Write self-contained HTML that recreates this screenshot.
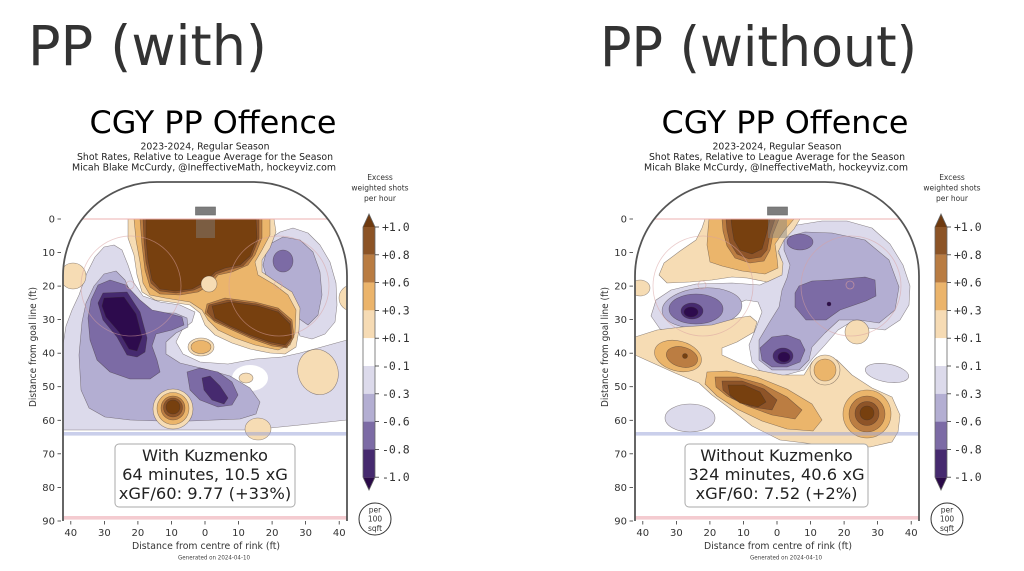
<!DOCTYPE html>
<html><head><meta charset="utf-8"><style>
html,body{margin:0;padding:0;background:#fff;}
svg{display:block;}
text{font-family:"DejaVu Sans","Liberation Sans",sans-serif;}
.mono text{font-family:"DejaVu Sans Mono","Liberation Mono",monospace;}
.b1{fill:#f6dcb4}.b2{fill:#ebb56b}.b3{fill:#bb7d42}.b4{fill:#8e5428}.b5{fill:#77400f}
.p1{fill:#dcdaeb}.p2{fill:#b3aed2}.p3{fill:#7c6ba5}.p4{fill:#462a6f}.p5{fill:#2d0b4d}
.ct{stroke:#3b3030;stroke-width:0.55;stroke-opacity:0.55;stroke-linejoin:round;}
.tk{font-size:10px;fill:#333;}
.cb{font-size:11.5px;fill:#333;}
</style></head><body>
<svg width="1024" height="571" viewBox="0 0 1024 571" xmlns="http://www.w3.org/2000/svg">
<defs>
<clipPath id="rink" clipPathUnits="userSpaceOnUse">
<path d="M63,521 L63,276 A94,94 0 0 1 157,182 L253,182 A94,94 0 0 1 347,276 L347,521 Z"/>
</clipPath>
</defs>
<rect width="1024" height="571" fill="#fff"/>

<text x="28" y="65" font-size="55" fill="#333" textLength="239" lengthAdjust="spacingAndGlyphs">PP (with)</text>
<text x="600" y="66" font-size="55" fill="#333" textLength="317" lengthAdjust="spacingAndGlyphs">PP (without)</text>

<!-- ================= LEFT CHART ================= -->
<g>
<text x="213" y="133" font-size="31.5" text-anchor="middle" fill="#000" textLength="247" lengthAdjust="spacingAndGlyphs">CGY PP Offence</text>
<text x="205" y="149.5" font-size="9.5" text-anchor="middle" fill="#222" textLength="129" lengthAdjust="spacingAndGlyphs">2023-2024, Regular Season</text>
<text x="205" y="160" font-size="9.5" text-anchor="middle" fill="#222" textLength="256" lengthAdjust="spacingAndGlyphs">Shot Rates, Relative to League Average for the Season</text>
<text x="204" y="170.5" font-size="9.5" text-anchor="middle" fill="#222" textLength="264" lengthAdjust="spacingAndGlyphs">Micah Blake McCurdy, @IneffectiveMath, hockeyviz.com</text>

<g clip-path="url(#rink)">
<g class="ct">
<polygon class="p1" points="63,345 66,326 72,310 79,295 86,275 95,257 104,247 114,245 122,250 128,265 134,283 143,296 160,302 180,305 195,312 192,322 182,330 176,342 183,354 200,362 228,364 255,359 282,357 300,353 318,348 336,343 347,340 347,420 300,425 250,430 150,430 63,430"/>
<polygon class="p1" points="268,240 280,232 293,228 308,233 320,245 330,262 336,283 337,305 335,322 325,334 312,339 300,336 295,322 293,305 282,292 268,286 256,283 252,272 258,258"/>
<ellipse cx="250" cy="378" rx="18" ry="13" fill="#fff" stroke="none"/>
<polygon class="p2" points="82,322 86,303 94,286 104,274 116,271 125,280 132,296 142,308 158,313 175,313 187,318 188,327 176,333 166,342 166,354 180,363 205,369 230,376 250,388 260,402 256,414 240,419 215,420 190,421 160,421 130,420 105,417 89,408 81,390 79,355"/>
<polygon class="p2" points="268,245 283,237 300,240 313,252 320,272 322,295 318,315 308,325 298,318 292,300 280,290 268,282 263,265"/>
<polygon class="p3" points="88,318 91,300 98,285 110,280 126,285 140,300 152,310 167,313 182,317 184,325 172,330 156,334 152,346 157,360 160,372 150,379 130,379 110,372 97,360 90,340"/>
<polygon class="p3" points="187,372 200,368 218,372 232,382 238,395 232,405 218,407 200,400 190,390"/>
<ellipse class="p3" cx="283" cy="261" rx="10" ry="11"/>
<polygon class="p4" points="98,303 103,293 127,292 140,312 147,338 145,352 137,357 127,355 117,337 103,320"/>
<polygon class="p5" points="104,298 124,297 136,314 142,337 137,351 129,349 119,332 106,317 102,306"/>
<polygon class="p4" points="202,378 210,376 220,386 228,398 224,404 212,400 204,390"/>

<polygon class="b1" points="128,219 274,219 276,232 270,248 262,260 262,272 278,283 292,292 300,308 299,330 296,347 285,354 270,353 250,349 232,343 215,335 205,325 200,313 190,305 170,302 155,300 142,292 137,275 134,255 128,238"/>
<polygon class="b2" points="134,219 270,219 270,235 262,250 255,262 258,275 275,285 288,295 296,310 295,333 290,345 278,350 255,345 235,338 218,330 208,320 202,310 190,302 165,298 150,295 143,283 140,262 136,240"/>
<polygon class="b3" points="140,219 262,219 262,238 255,255 248,265 232,272 218,275 210,285 198,292 180,295 160,294 150,287 145,270 142,245"/>
<polygon class="b3" points="207,304 225,298 255,302 278,308 292,320 294,337 287,348 272,346 252,339 232,330 215,322 205,313"/>
<polygon class="b4" points="143,219 259,219 259,238 252,256 243,266 228,270 216,274 207,284 194,290 176,293 160,291 151,283 146,262 144,240"/>
<polygon class="b4" points="209,305 228,300 257,304 278,310 291,322 292,338 286,347 271,344 251,337 231,328 214,320 207,312"/>
<polygon class="b5" points="146,219 256,219 257,238 250,256 240,265 225,268 215,272 205,282 192,289 175,291 160,289 152,280 148,260 146,240"/>
<polygon class="b5" points="212,306 230,302 258,306 278,312 290,324 291,338 285,345 270,342 250,335 230,326 215,318"/>
<ellipse class="b1" cx="209" cy="284" rx="8" ry="8"/>
<ellipse class="b1" cx="201" cy="347" rx="13" ry="9"/>
<ellipse class="b2" cx="201" cy="347" rx="10" ry="6.5"/>
<ellipse class="b1" cx="246" cy="378" rx="7" ry="5"/>
<ellipse class="b1" cx="318" cy="372" rx="20" ry="23" transform="rotate(-20 318 372)"/>
<circle class="b1" cx="73" cy="276" r="13"/>
<circle class="b1" cx="352" cy="298" r="13"/>
<ellipse class="b1" cx="258" cy="429" rx="13" ry="11"/>
<circle class="b1" cx="173" cy="409" r="20"/>
<circle class="b2" cx="173" cy="408.5" r="16"/>
<circle class="b3" cx="173" cy="408" r="12"/>
<circle class="b4" cx="173" cy="407.5" r="9.5"/>
<circle class="b5" cx="173" cy="407" r="7"/>
</g>
<rect x="196" y="219" width="19" height="19" fill="rgba(128,128,128,0.45)"/>
<circle cx="131" cy="286" r="50" fill="none" stroke="#d9a0a0" stroke-opacity="0.55" stroke-width="0.8"/>
<circle cx="279" cy="286" r="50" fill="none" stroke="#d9a0a0" stroke-opacity="0.55" stroke-width="0.8"/>
<circle cx="130" cy="285" r="4" fill="none" stroke="#d9a0a0" stroke-opacity="0.55" stroke-width="0.8"/>
<circle cx="278" cy="285" r="4" fill="none" stroke="#d9a0a0" stroke-opacity="0.55" stroke-width="0.8"/>
<line x1="60" y1="219" x2="350" y2="219" stroke="#eeb0b0" stroke-width="1"/>
<rect x="60" y="432" width="290" height="3.6" fill="rgba(150,160,215,0.5)"/>
<rect x="60" y="516" width="290" height="3.6" fill="rgba(235,160,170,0.55)"/>
</g>
<rect x="195.5" y="207" width="20" height="8" fill="#7d7d7d" stroke="#666" stroke-width="0.6"/>
<path d="M63,521 L63,276 A94,94 0 0 1 157,182 L253,182 A94,94 0 0 1 347,276 L347,521" fill="none" stroke="#555" stroke-width="1.8"/>

<!-- axes -->
<g class="tk" text-anchor="end">
<text x="55" y="222.5">0</text><text x="55" y="256">10</text><text x="55" y="289.6">20</text><text x="55" y="323.1">30</text><text x="55" y="356.7">40</text><text x="55" y="390.2">50</text><text x="55" y="423.8">60</text><text x="55" y="457.3">70</text><text x="55" y="490.9">80</text><text x="55" y="524.5">90</text>
</g>
<g stroke="#333" stroke-width="0.8">
<line x1="57.5" y1="219" x2="61" y2="219"/><line x1="57.5" y1="252.5" x2="61" y2="252.5"/><line x1="57.5" y1="286.1" x2="61" y2="286.1"/><line x1="57.5" y1="319.6" x2="61" y2="319.6"/><line x1="57.5" y1="353.2" x2="61" y2="353.2"/><line x1="57.5" y1="386.7" x2="61" y2="386.7"/><line x1="57.5" y1="420.3" x2="61" y2="420.3"/><line x1="57.5" y1="453.8" x2="61" y2="453.8"/><line x1="57.5" y1="487.4" x2="61" y2="487.4"/><line x1="57.5" y1="521" x2="61" y2="521"/>
<line x1="70.8" y1="521" x2="70.8" y2="524.5"/><line x1="104.4" y1="521" x2="104.4" y2="524.5"/><line x1="137.9" y1="521" x2="137.9" y2="524.5"/><line x1="171.5" y1="521" x2="171.5" y2="524.5"/><line x1="205" y1="521" x2="205" y2="524.5"/><line x1="238.5" y1="521" x2="238.5" y2="524.5"/><line x1="272.1" y1="521" x2="272.1" y2="524.5"/><line x1="305.6" y1="521" x2="305.6" y2="524.5"/><line x1="339.2" y1="521" x2="339.2" y2="524.5"/>
</g>
<g class="tk" text-anchor="middle">
<text x="70.8" y="536">40</text><text x="104.4" y="536">30</text><text x="137.9" y="536">20</text><text x="171.5" y="536">10</text><text x="205" y="536">0</text><text x="238.5" y="536">10</text><text x="272.1" y="536">20</text><text x="305.6" y="536">30</text><text x="339.2" y="536">40</text>
</g>
<text x="206" y="549" font-size="10" fill="#333" text-anchor="middle" textLength="148" lengthAdjust="spacingAndGlyphs">Distance from centre of rink (ft)</text>
<text x="0" y="0" font-size="10" fill="#333" text-anchor="middle" textLength="120" lengthAdjust="spacingAndGlyphs" transform="translate(36 347) rotate(-90)">Distance from goal line (ft)</text>
<text x="214" y="559.5" font-size="6" fill="#444" text-anchor="middle" textLength="72" lengthAdjust="spacingAndGlyphs">Generated on 2024-04-10</text>

<rect x="115" y="444" width="180" height="63" rx="4" fill="#fff" stroke="#aaa" stroke-width="1"/>
<g font-size="16.3" fill="#222" text-anchor="middle">
<text x="205" y="461">With Kuzmenko</text>
<text x="205" y="480">64 minutes, 10.5 xG</text>
<text x="205" y="499">xGF/60: 9.77 (+33%)</text>
</g>

<!-- colorbar -->
<g font-size="7.5" fill="#333" text-anchor="middle">
<text x="380" y="180">Excess</text><text x="380" y="190.5">weighted shots</text><text x="380" y="201">per hour</text>
</g>
<polygon points="363,227 369,214 375,227" fill="#6e3a10"/>
<rect x="363" y="227" width="12" height="27.8" fill="#8c5426"/>
<rect x="363" y="254.8" width="12" height="27.8" fill="#b97c42"/>
<rect x="363" y="282.6" width="12" height="27.8" fill="#ebb46b"/>
<rect x="363" y="310.4" width="12" height="27.8" fill="#f6dbb4"/>
<rect x="363" y="338.2" width="12" height="27.8" fill="#ffffff"/>
<rect x="363" y="366" width="12" height="27.8" fill="#dcdaeb"/>
<rect x="363" y="393.8" width="12" height="27.8" fill="#b3aed2"/>
<rect x="363" y="421.6" width="12" height="27.8" fill="#7c6ba5"/>
<rect x="363" y="449.4" width="12" height="27.8" fill="#462a6f"/>
<polygon points="363,477.2 375,477.2 369,490" fill="#2a0a48"/>
<polygon points="363,227 369,214 375,227 375,477.2 369,490 363,477.2" fill="none" stroke="#666" stroke-width="0.8"/>
<g stroke="#333" stroke-width="0.8">
<line x1="375" y1="227" x2="379" y2="227"/><line x1="375" y1="254.8" x2="379" y2="254.8"/><line x1="375" y1="282.6" x2="379" y2="282.6"/><line x1="375" y1="310.4" x2="379" y2="310.4"/><line x1="375" y1="338.2" x2="379" y2="338.2"/><line x1="375" y1="366" x2="379" y2="366"/><line x1="375" y1="393.8" x2="379" y2="393.8"/><line x1="375" y1="421.6" x2="379" y2="421.6"/><line x1="375" y1="449.4" x2="379" y2="449.4"/><line x1="375" y1="477.2" x2="379" y2="477.2"/>
</g>
<g class="mono cb">
<text x="382" y="231">+1.0</text><text x="382" y="258.8">+0.8</text><text x="382" y="286.6">+0.6</text><text x="382" y="314.4">+0.3</text><text x="382" y="342.2">+0.1</text><text x="382" y="370">-0.1</text><text x="382" y="397.8">-0.3</text><text x="382" y="425.6">-0.6</text><text x="382" y="453.4">-0.8</text><text x="382" y="481.2">-1.0</text>
</g>
<circle cx="375" cy="519" r="16" fill="#fff" stroke="#333" stroke-width="1"/>
<g font-size="7.5" fill="#333" text-anchor="middle">
<text x="375" y="512.5">per</text><text x="375" y="521.5">100</text><text x="375" y="531">sqft</text>
</g>
</g>

<!-- ================= RIGHT CHART ================= -->
<g transform="translate(572 0)">
<text x="213" y="133" font-size="31.5" text-anchor="middle" fill="#000" textLength="247" lengthAdjust="spacingAndGlyphs">CGY PP Offence</text>
<text x="205" y="149.5" font-size="9.5" text-anchor="middle" fill="#222" textLength="129" lengthAdjust="spacingAndGlyphs">2023-2024, Regular Season</text>
<text x="205" y="160" font-size="9.5" text-anchor="middle" fill="#222" textLength="256" lengthAdjust="spacingAndGlyphs">Shot Rates, Relative to League Average for the Season</text>
<text x="204" y="170.5" font-size="9.5" text-anchor="middle" fill="#222" textLength="264" lengthAdjust="spacingAndGlyphs">Micah Blake McCurdy, @IneffectiveMath, hockeyviz.com</text>

<g clip-path="url(#rink)">
<g class="ct">
<polygon class="p1" points="205,228 225,225 250,221 275,221 300,228 318,244 331,265 338,286 337,305 328,320 313,330 296,328 279,322 266,330 253,345 241,358 232,370 210,376 190,373 180,362 177,345 184,328 190,312 186,302 174,300 162,305 152,320 132,331 106,334 88,329 79,316 84,300 99,290 124,284 160,283 188,285 203,278 210,262 205,245"/>
<polygon class="p2" points="212,238 233,232 260,233 293,240 317,260 327,287 323,310 307,323 287,320 267,320 253,333 240,347 237,360 227,370 200,370 187,360 187,340 197,323 207,307 210,290 215,278 218,265 212,250"/>
<ellipse class="p2" cx="130" cy="308" rx="40" ry="20" transform="rotate(-5 130 308)"/>
<polygon class="p3" points="223,293 227,286 240,281 260,280 293,277 303,280 304,296 294,301 268,310 254,320 234,320 223,307"/>
<ellipse class="p3" cx="228" cy="242" rx="13" ry="8"/>
<polygon class="p3" points="200,337 215,335 228,340 233,350 228,362 215,367 200,367 190,360 188,348"/>
<ellipse class="p3" cx="124" cy="309" rx="27" ry="15"/>
<ellipse class="p4" cx="211" cy="356" rx="10" ry="8"/>
<ellipse class="p5" cx="212" cy="357" rx="6" ry="5"/>
<ellipse class="p4" cx="120" cy="311" rx="11" ry="8"/>
<ellipse class="p5" cx="119" cy="312" rx="7" ry="5"/>
<circle cx="257" cy="304" r="2" fill="#2d0b4d"/>

<polygon class="b1" points="133,219 228,219 222,229 212,240 206,252 211,263 210,275 195,282 175,278 160,277 140,280 118,282 95,283 87,275 92,263 108,251 124,240 130,228"/>
<polygon class="b2" points="137,219 222,219 212,231 203,244 205,258 206,268 193,274 170,271 150,266 138,262 135,245 136,230"/>
<polygon class="b3" points="150,219 207,219 201,234 198,250 192,261 178,263 163,258 155,246 151,231"/>
<polygon class="b4" points="154,219 203,219 198,234 195,250 189,257 177,259 165,254 158,243 155,230"/>
<polygon class="b5" points="159,219 198,219 194,235 190,249 180,254 168,250 162,240 160,228"/>

<polygon class="b1" points="63,337 85,330 110,327 140,325 165,318 178,316 185,322 182,332 165,342 150,348 150,355 165,362 185,370 210,375 232,375 240,362 252,356 265,360 280,375 300,388 320,397 328,415 326,432 320,442 298,447 258,446 208,440 180,426 160,410 140,395 127,383 103,373 83,364 63,355"/>
<ellipse class="b2" cx="106" cy="356" rx="24" ry="15" transform="rotate(15 106 356)"/>
<ellipse class="b3" cx="110" cy="357" rx="16" ry="10" transform="rotate(15 110 357)"/>
<circle cx="113" cy="356" r="2.5" fill="#77400f"/>
<polygon class="b2" points="135,372 155,371 185,377 215,389 240,404 250,420 241,431 215,429 190,421 165,409 145,396 133,384"/>
<polygon class="b3" points="143,377 165,377 190,384 215,397 230,410 223,419 200,415 175,406 155,396 144,387"/>
<polygon class="b4" points="150,381 170,381 192,389 205,400 200,410 180,407 160,398 151,390"/>
<polygon class="b5" points="156,385 172,385 188,392 194,402 186,407 168,403 158,395"/>
<circle class="b2" cx="295" cy="414" r="24"/>
<circle class="b3" cx="295" cy="414" r="18"/>
<circle class="b4" cx="295" cy="413.5" r="12"/>
<circle class="b5" cx="295" cy="413" r="7"/>
<circle class="b1" cx="253" cy="370" r="15"/>
<circle class="b2" cx="253" cy="370" r="11"/>
<ellipse class="b1" cx="68" cy="288" rx="10" ry="8"/>
<circle class="b1" cx="285" cy="332" r="12"/>
<ellipse class="p1" cx="315" cy="373" rx="22" ry="9" transform="rotate(10 315 373)"/>
<ellipse class="p1" cx="118" cy="418" rx="25" ry="14"/>
</g>
<rect x="196" y="219" width="19" height="19" fill="rgba(128,128,128,0.45)"/>
<circle cx="131" cy="286" r="50" fill="none" stroke="#d9a0a0" stroke-opacity="0.55" stroke-width="0.8"/>
<circle cx="279" cy="286" r="50" fill="none" stroke="#d9a0a0" stroke-opacity="0.55" stroke-width="0.8"/>
<circle cx="130" cy="285" r="4" fill="none" stroke="#d9a0a0" stroke-opacity="0.55" stroke-width="0.8"/>
<circle cx="278" cy="285" r="4" fill="none" stroke="#d9a0a0" stroke-opacity="0.7" stroke-width="0.8"/>
<line x1="60" y1="219" x2="350" y2="219" stroke="#eeb0b0" stroke-width="1"/>
<rect x="60" y="432" width="290" height="3.6" fill="rgba(150,160,215,0.5)"/>
<rect x="60" y="516" width="290" height="3.6" fill="rgba(235,160,170,0.55)"/>
</g>
<rect x="195.5" y="207" width="20" height="8" fill="#7d7d7d" stroke="#666" stroke-width="0.6"/>
<path d="M63,521 L63,276 A94,94 0 0 1 157,182 L253,182 A94,94 0 0 1 347,276 L347,521" fill="none" stroke="#555" stroke-width="1.8"/>

<g class="tk" text-anchor="end">
<text x="55" y="222.5">0</text><text x="55" y="256">10</text><text x="55" y="289.6">20</text><text x="55" y="323.1">30</text><text x="55" y="356.7">40</text><text x="55" y="390.2">50</text><text x="55" y="423.8">60</text><text x="55" y="457.3">70</text><text x="55" y="490.9">80</text><text x="55" y="524.5">90</text>
</g>
<g stroke="#333" stroke-width="0.8">
<line x1="57.5" y1="219" x2="61" y2="219"/><line x1="57.5" y1="252.5" x2="61" y2="252.5"/><line x1="57.5" y1="286.1" x2="61" y2="286.1"/><line x1="57.5" y1="319.6" x2="61" y2="319.6"/><line x1="57.5" y1="353.2" x2="61" y2="353.2"/><line x1="57.5" y1="386.7" x2="61" y2="386.7"/><line x1="57.5" y1="420.3" x2="61" y2="420.3"/><line x1="57.5" y1="453.8" x2="61" y2="453.8"/><line x1="57.5" y1="487.4" x2="61" y2="487.4"/><line x1="57.5" y1="521" x2="61" y2="521"/>
<line x1="70.8" y1="521" x2="70.8" y2="524.5"/><line x1="104.4" y1="521" x2="104.4" y2="524.5"/><line x1="137.9" y1="521" x2="137.9" y2="524.5"/><line x1="171.5" y1="521" x2="171.5" y2="524.5"/><line x1="205" y1="521" x2="205" y2="524.5"/><line x1="238.5" y1="521" x2="238.5" y2="524.5"/><line x1="272.1" y1="521" x2="272.1" y2="524.5"/><line x1="305.6" y1="521" x2="305.6" y2="524.5"/><line x1="339.2" y1="521" x2="339.2" y2="524.5"/>
</g>
<g class="tk" text-anchor="middle">
<text x="70.8" y="536">40</text><text x="104.4" y="536">30</text><text x="137.9" y="536">20</text><text x="171.5" y="536">10</text><text x="205" y="536">0</text><text x="238.5" y="536">10</text><text x="272.1" y="536">20</text><text x="305.6" y="536">30</text><text x="339.2" y="536">40</text>
</g>
<text x="206" y="549" font-size="10" fill="#333" text-anchor="middle" textLength="148" lengthAdjust="spacingAndGlyphs">Distance from centre of rink (ft)</text>
<text x="0" y="0" font-size="10" fill="#333" text-anchor="middle" textLength="120" lengthAdjust="spacingAndGlyphs" transform="translate(36 347) rotate(-90)">Distance from goal line (ft)</text>
<text x="214" y="559.5" font-size="6" fill="#444" text-anchor="middle" textLength="72" lengthAdjust="spacingAndGlyphs">Generated on 2024-04-10</text>

<rect x="113" y="444" width="183" height="63" rx="4" fill="#fff" stroke="#aaa" stroke-width="1"/>
<g font-size="16.3" fill="#222" text-anchor="middle">
<text x="204.5" y="461">Without Kuzmenko</text>
<text x="204.5" y="480">324 minutes, 40.6 xG</text>
<text x="204.5" y="499">xGF/60: 7.52 (+2%)</text>
</g>

<g font-size="7.5" fill="#333" text-anchor="middle">
<text x="380" y="180">Excess</text><text x="380" y="190.5">weighted shots</text><text x="380" y="201">per hour</text>
</g>
<polygon points="363,227 369,214 375,227" fill="#6e3a10"/>
<rect x="363" y="227" width="12" height="27.8" fill="#8c5426"/>
<rect x="363" y="254.8" width="12" height="27.8" fill="#b97c42"/>
<rect x="363" y="282.6" width="12" height="27.8" fill="#ebb46b"/>
<rect x="363" y="310.4" width="12" height="27.8" fill="#f6dbb4"/>
<rect x="363" y="338.2" width="12" height="27.8" fill="#ffffff"/>
<rect x="363" y="366" width="12" height="27.8" fill="#dcdaeb"/>
<rect x="363" y="393.8" width="12" height="27.8" fill="#b3aed2"/>
<rect x="363" y="421.6" width="12" height="27.8" fill="#7c6ba5"/>
<rect x="363" y="449.4" width="12" height="27.8" fill="#462a6f"/>
<polygon points="363,477.2 375,477.2 369,490" fill="#2a0a48"/>
<polygon points="363,227 369,214 375,227 375,477.2 369,490 363,477.2" fill="none" stroke="#666" stroke-width="0.8"/>
<g stroke="#333" stroke-width="0.8">
<line x1="375" y1="227" x2="379" y2="227"/><line x1="375" y1="254.8" x2="379" y2="254.8"/><line x1="375" y1="282.6" x2="379" y2="282.6"/><line x1="375" y1="310.4" x2="379" y2="310.4"/><line x1="375" y1="338.2" x2="379" y2="338.2"/><line x1="375" y1="366" x2="379" y2="366"/><line x1="375" y1="393.8" x2="379" y2="393.8"/><line x1="375" y1="421.6" x2="379" y2="421.6"/><line x1="375" y1="449.4" x2="379" y2="449.4"/><line x1="375" y1="477.2" x2="379" y2="477.2"/>
</g>
<g class="mono cb">
<text x="382" y="231">+1.0</text><text x="382" y="258.8">+0.8</text><text x="382" y="286.6">+0.6</text><text x="382" y="314.4">+0.3</text><text x="382" y="342.2">+0.1</text><text x="382" y="370">-0.1</text><text x="382" y="397.8">-0.3</text><text x="382" y="425.6">-0.6</text><text x="382" y="453.4">-0.8</text><text x="382" y="481.2">-1.0</text>
</g>
<circle cx="375" cy="519" r="16" fill="#fff" stroke="#333" stroke-width="1"/>
<g font-size="7.5" fill="#333" text-anchor="middle">
<text x="375" y="512.5">per</text><text x="375" y="521.5">100</text><text x="375" y="531">sqft</text>
</g>
</g>
</svg>
</body></html>
